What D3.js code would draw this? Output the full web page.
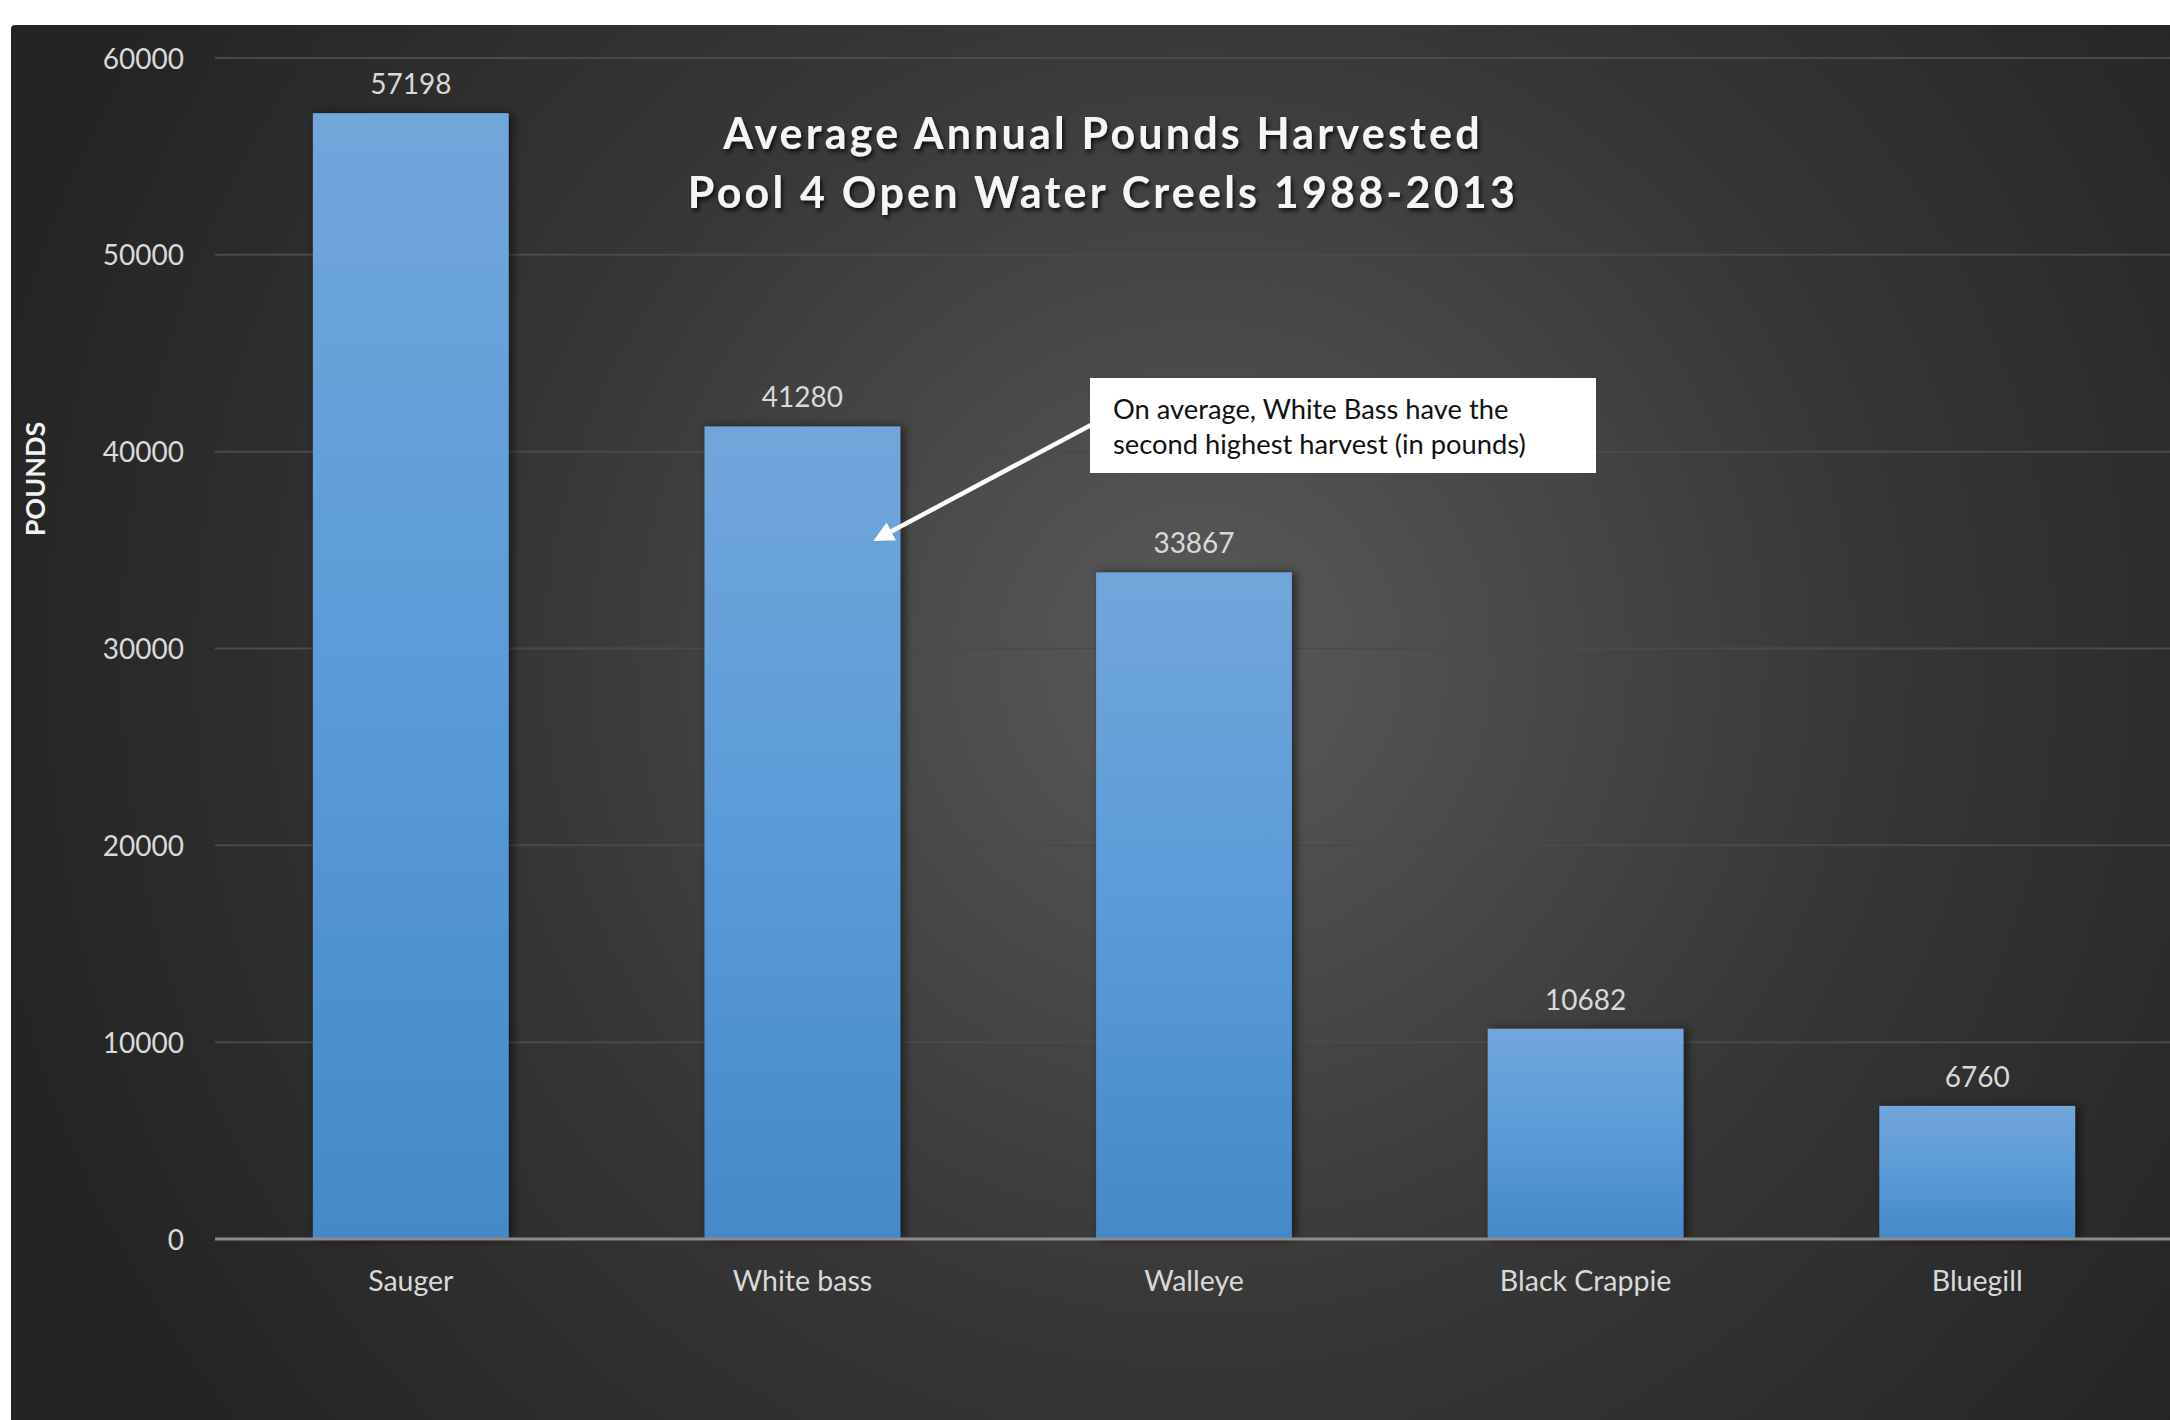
<!DOCTYPE html>
<html>
<head>
<meta charset="utf-8">
<script src="https://cdn.jsdelivr.net/npm/d3@7"></script>
<style>
  body { margin: 0; background: #fff; }
  svg { display: block; }
  text { font-family: Lato, "Open Sans", sans-serif; }
</style>
</head>
<body>
<svg id="canvas" width="2170" height="1420"></svg>
<script>
let categories = ['Sauger', 'White bass', 'Walleye', 'Black Crappie', 'Bluegill']
let pounds = [57198, 41280, 33867, 10682, 6760]
let yTicks = [0, 10000, 20000, 30000, 40000, 50000, 60000]
let titleLines = ['Average Annual Pounds Harvested', 'Pool 4 Open Water Creels 1988-2013']
let noteLines = ['On average, White Bass have the', 'second highest harvest (in pounds)']

let canvas = d3.select('#canvas')
let defs = canvas.append('defs')

// background: dark radial glow like the Excel style
let bg = defs.append('radialGradient').attr('id', 'bgGrad')
    .attr('gradientUnits', 'userSpaceOnUse')
    .attr('cx', 1200).attr('cy', 660).attr('r', 1250)
bg.append('stop').attr('offset', '0%').attr('stop-color', '#5a5a5a')
bg.append('stop').attr('offset', '55%').attr('stop-color', '#363636')
bg.append('stop').attr('offset', '100%').attr('stop-color', '#242424')

let barGrad = defs.append('linearGradient').attr('id', 'barGrad')
    .attr('x1', 0).attr('y1', 0).attr('x2', 0).attr('y2', 1)
barGrad.append('stop').attr('offset', '0%').attr('stop-color', '#72a6db')
barGrad.append('stop').attr('offset', '50%').attr('stop-color', '#5b9bd9')
barGrad.append('stop').attr('offset', '100%').attr('stop-color', '#4589c8')

defs.append('filter').attr('id', 'barShadow').attr('x', '-20%').attr('width', '140%')
    .append('feDropShadow').attr('dx', 4).attr('dy', 0).attr('stdDeviation', 5)
    .attr('flood-color', '#000').attr('flood-opacity', 0.55)

defs.append('filter').attr('id', 'textShadow')
    .append('feDropShadow').attr('dx', 2).attr('dy', 3).attr('stdDeviation', 2)
    .attr('flood-color', '#000').attr('flood-opacity', 0.75)

let arrowHead = defs.append('marker').attr('id', 'arrow')
    .attr('viewBox', '0 0 10 10').attr('refX', 8).attr('refY', 5)
    .attr('markerWidth', 4.5).attr('markerHeight', 4.5).attr('orient', 'auto')
arrowHead.append('path').attr('d', 'M0,0 L10,5 L0,10 z').attr('fill', '#fff')

canvas.append('rect')
    .attr('x', 11).attr('y', 25).attr('width', 2170).attr('height', 1420)
    .attr('rx', 4)
    .attr('fill', 'url(#bgGrad)')

let xScale = d3.scaleBand()
    .domain(categories)
    .range([215, 2173])
    .paddingInner(0.5)
    .paddingOuter(0.25)

let yScale = d3.scaleLinear()
    .domain([0, 60000])
    .range([1239, 58])

// gridlines
canvas.append('g')
    .selectAll('line')
    .data(yTicks.filter(t => t > 0))
    .enter()
    .append('line')
    .attr('x1', 215).attr('x2', 2170)
    .attr('y1', d => yScale(d)).attr('y2', d => yScale(d))
    .attr('stroke', '#4a4a4a')
    .attr('stroke-width', 2)

// y tick labels
let yAxis = d3.axisLeft(yScale).tickValues(yTicks).tickSize(0).tickPadding(0).tickFormat(d3.format('d'))
let yG = canvas.append('g').attr('transform', 'translate(184,0)').call(yAxis)
yG.select('.domain').remove()
yG.selectAll('text')
    .attr('fill', '#d9d9d9')
    .attr('font-size', 28)
    .attr('dy', '0.36em')

canvas.append('text')
    .attr('transform', 'translate(45,479) rotate(-90)')
    .attr('text-anchor', 'middle')
    .attr('fill', '#f2f2f2')
    .attr('font-size', 27)
    .attr('font-weight', 'bold')
    .text('POUNDS')

// bars
canvas.append('g')
    .selectAll('rect')
    .data(pounds)
    .enter()
    .append('rect')
    .attr('x', (d, i) => xScale(categories[i]))
    .attr('y', d => yScale(d))
    .attr('width', xScale.bandwidth())
    .attr('height', d => yScale(0) - yScale(d))
    .attr('fill', 'url(#barGrad)')
    .attr('filter', 'url(#barShadow)')

// value labels
canvas.append('g')
    .selectAll('text')
    .data(pounds)
    .enter()
    .append('text')
    .attr('x', (d, i) => xScale(categories[i]) + xScale.bandwidth() / 2)
    .attr('y', d => yScale(d) - 19)
    .attr('text-anchor', 'middle')
    .attr('fill', '#d9d9d9')
    .attr('font-size', 28)
    .text(d => d)

// x axis
let xAxis = d3.axisBottom(xScale).tickSize(0).tickPadding(0)
let xG = canvas.append('g').attr('transform', 'translate(0,' + yScale(0) + ')').call(xAxis)
xG.select('.domain')
    .attr('d', 'M215,0H2170')
    .attr('stroke', '#8c8c8c')
    .attr('stroke-width', 3)
xG.selectAll('text')
    .attr('fill', '#d9d9d9')
    .attr('font-size', 28.5)
    .attr('dy', 0)
    .attr('y', 52)

// title
canvas.append('g')
    .selectAll('text')
    .data(titleLines)
    .enter()
    .append('text')
    .attr('x', 1103)
    .attr('y', (d, i) => 149 + i * 59)
    .attr('text-anchor', 'middle')
    .attr('fill', '#f5f5f5')
    .attr('font-size', 43)
    .attr('font-weight', 'bold')
    .attr('letter-spacing', 3.2)
    .attr('filter', 'url(#textShadow)')
    .text(d => d)

// annotation
canvas.append('line')
    .attr('x1', 1091).attr('y1', 425)
    .attr('x2', 877).attr('y2', 539)
    .attr('stroke', '#fff')
    .attr('stroke-width', 4.5)
    .attr('marker-end', 'url(#arrow)')

canvas.append('rect')
    .attr('x', 1090).attr('y', 378)
    .attr('width', 506).attr('height', 95)
    .attr('fill', '#fff')

canvas.append('g')
    .selectAll('text')
    .data(noteLines)
    .enter()
    .append('text')
    .attr('x', 1113)
    .attr('y', (d, i) => 419 + i * 35)
    .attr('fill', '#111')
    .attr('font-size', 27.3)
    .text(d => d)
</script>
</body>
</html>
